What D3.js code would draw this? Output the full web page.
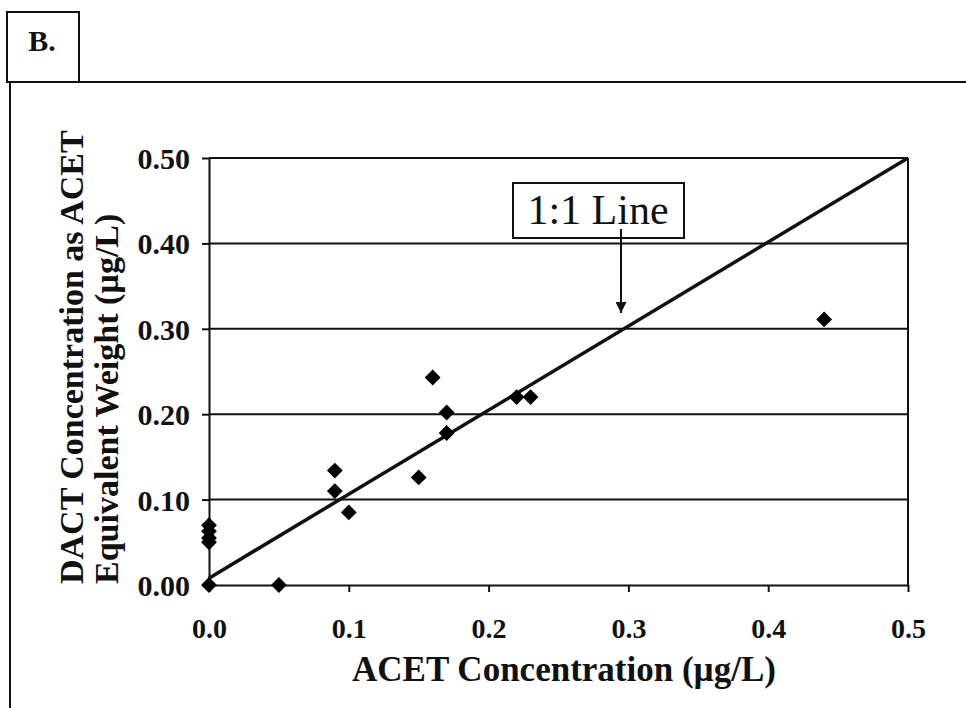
<!DOCTYPE html>
<html>
<head>
<meta charset="utf-8">
<script src="https://cdn.jsdelivr.net/npm/d3@7"></script>
<style>
  body { margin: 0; background: #fff; }
  text { font-family: "Liberation Serif", "Times New Roman", serif; fill: #111; }
</style>
</head>
<body>
<script>
// points (ACET, DACT as ACET)
var acet = [0, 0, 0, 0, 0, 0.05, 0.09, 0.09, 0.10, 0.15, 0.16, 0.17, 0.17, 0.22, 0.23, 0.44];
var dact = [0, 0.070, 0.063, 0.055, 0.050, 0, 0.134, 0.110, 0.085, 0.126, 0.243, 0.202, 0.178, 0.220, 0.220, 0.311];

// 1:1 line ends
var lineX = [0, 0.5];
var lineY = [0.008, 0.5];

var xTicks = [0, 0.1, 0.2, 0.3, 0.4, 0.5];
var yTicks = [0, 0.1, 0.2, 0.3, 0.4, 0.5];

var width = 966;
var height = 708;

var svg = d3.select("body").append("svg")
  .attr("width", width)
  .attr("height", height);

var margins = {
  top: 158,
  bottom: 123,
  left: 209,
  right: 58
};

var xScale = d3.scaleLinear()
  .domain([0, 0.5])
  .range([margins.left, width - margins.right]);
var yScale = d3.scaleLinear()
  .domain([0, 0.5])
  .range([height - margins.bottom, margins.top]);

// panel frame and "B." tag
svg.append("rect")
  .attr("x", 7).attr("y", 12)
  .attr("width", 72).attr("height", 70)
  .attr("fill", "none").attr("stroke", "#111").attr("stroke-width", 2);
svg.append("line")
  .attr("x1", 7).attr("y1", 82).attr("x2", width).attr("y2", 82)
  .attr("stroke", "#111").attr("stroke-width", 2);
svg.append("line")
  .attr("x1", 10).attr("y1", 82).attr("x2", 10).attr("y2", height)
  .attr("stroke", "#111").attr("stroke-width", 2);
svg.append("text")
  .attr("x", 42).attr("y", 51)
  .attr("text-anchor", "middle")
  .attr("font-size", 30).attr("font-weight", "bold")
  .text("B.");

// gridlines
svg.append("g").selectAll("line")
  .data(yTicks.slice(1))
  .enter()
  .append("line")
  .attr("x1", xScale(0)).attr("x2", xScale(0.5))
  .attr("y1", function(d){ return yScale(d); })
  .attr("y2", function(d){ return yScale(d); })
  .attr("stroke", "#111").attr("stroke-width", 2);

// right border
svg.append("line")
  .attr("x1", xScale(0.5)).attr("x2", xScale(0.5))
  .attr("y1", yScale(0.5)).attr("y2", yScale(0))
  .attr("stroke", "#111").attr("stroke-width", 2);

var xAxis = d3.axisBottom(xScale)
  .tickValues(xTicks)
  .tickFormat(d3.format(".1f"))
  .tickSizeInner(7).tickSizeOuter(0).tickPadding(26);
var yAxis = d3.axisLeft(yScale)
  .tickValues(yTicks)
  .tickFormat(d3.format(".2f"))
  .tickSizeInner(7).tickSizeOuter(0).tickPadding(12);

var gx = svg.append("g").classed("xAxis", true)
  .attr("transform", "translate(0," + yScale(0) + ")")
  .call(xAxis);
var gy = svg.append("g").classed("yAxis", true)
  .attr("transform", "translate(" + xScale(0) + ",0)")
  .call(yAxis);

[gx, gy].forEach(function(g){
  g.selectAll("path").attr("stroke", "#111").attr("stroke-width", 2);
  g.selectAll("line").attr("stroke", "#111").attr("stroke-width", 2);
  g.selectAll("text")
    .attr("font-family", "Liberation Serif, serif")
    .attr("font-size", 28).attr("font-weight", "bold")
    .attr("fill", "#111");
});
gy.selectAll("text").attr("dy", "0.35em").attr("font-size", 30);

// 1:1 line
svg.append("line")
  .attr("x1", xScale(lineX[0])).attr("y1", yScale(lineY[0]))
  .attr("x2", xScale(lineX[1])).attr("y2", yScale(lineY[1]))
  .attr("stroke", "#111").attr("stroke-width", 3.5);

// points (rotated squares)
var diamond = d3.symbol().type(d3.symbolSquare).size(125);
svg.append("g").selectAll("path")
  .data(acet)
  .enter()
  .append("path")
  .attr("d", diamond)
  .attr("transform", function(d, i){
    return "translate(" + xScale(d) + "," + yScale(dact[i]) + ") rotate(45)";
  })
  .attr("fill", "#000");

// annotation box + arrow
svg.append("defs").append("marker")
  .attr("id", "head")
  .attr("viewBox", "0 0 10 10")
  .attr("refX", 10).attr("refY", 5)
  .attr("markerWidth", 13).attr("markerHeight", 11)
  .attr("markerUnits", "userSpaceOnUse")
  .attr("orient", "auto")
  .append("path")
  .attr("d", "M0,0 L10,5 L0,10 Z")
  .attr("fill", "#111");

svg.append("rect")
  .attr("x", 513).attr("y", 183)
  .attr("width", 171).attr("height", 55)
  .attr("fill", "#fff").attr("stroke", "#111").attr("stroke-width", 2);
svg.append("text")
  .attr("x", 598).attr("y", 224)
  .attr("text-anchor", "middle")
  .attr("font-size", 42)
  .text("1:1 Line");
svg.append("line")
  .attr("x1", 621).attr("y1", 229)
  .attr("x2", 621).attr("y2", 313)
  .attr("stroke", "#111").attr("stroke-width", 2)
  .attr("marker-end", "url(#head)");

// axis titles
svg.append("text")
  .attr("x", 564).attr("y", 681)
  .attr("text-anchor", "middle")
  .attr("font-size", 35).attr("font-weight", "bold")
  .text("ACET Concentration (µg/L)");

var yTitle = svg.append("text")
  .attr("transform", "translate(0,584) rotate(-90)")
  .attr("font-size", 34).attr("font-weight", "bold");
yTitle.append("tspan").attr("x", 0).attr("y", 83).text("DACT Concentration as ACET");
yTitle.append("tspan").attr("x", 0).attr("y", 118).text("Equivalent Weight (µg/L)");
</script>
</body>
</html>
